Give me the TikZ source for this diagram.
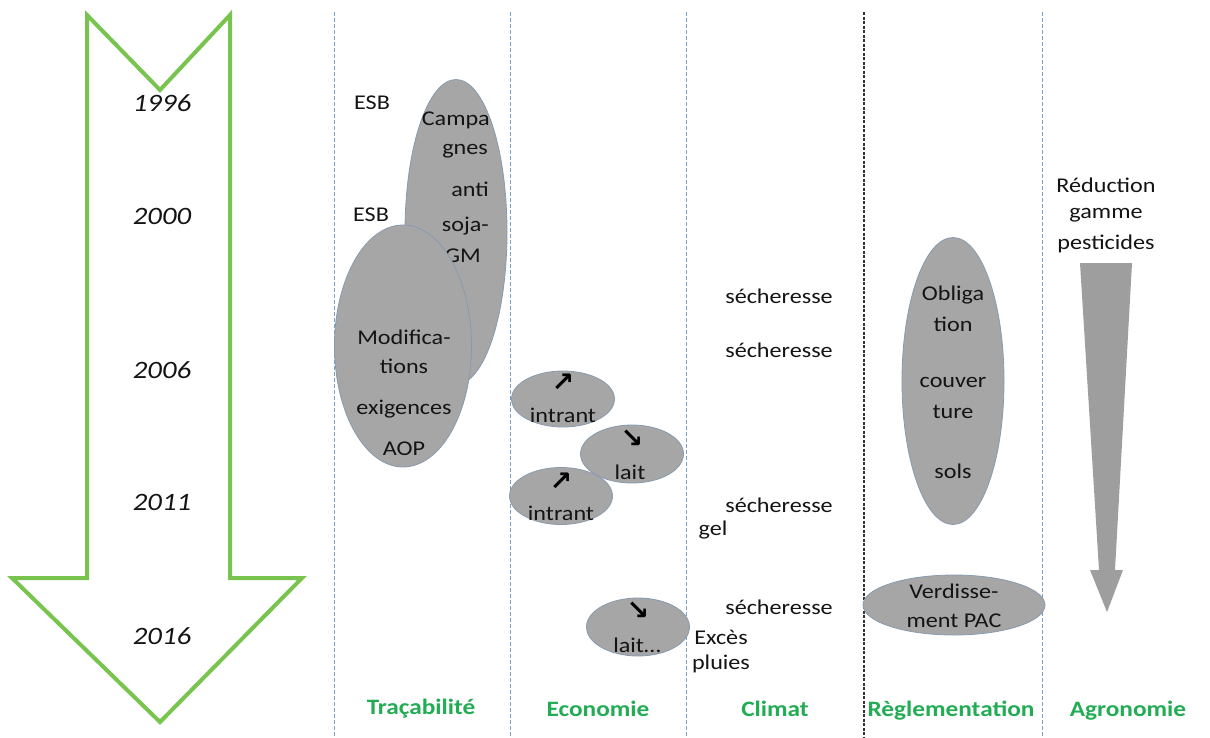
\documentclass[tikz,border=0pt]{standalone}
\usepackage{fontspec}
\setmainfont{Carlito}[FakeStretch=1.15]
\newfontfamily\arrowfont{DejaVu Sans}
\usetikzlibrary{shapes.geometric}
\definecolor{arrgreen}{RGB}{120,196,78}
\definecolor{lblgreen}{RGB}{34,172,84}
\definecolor{ellfill}{RGB}{166,166,166}
\definecolor{elldraw}{RGB}{135,155,175}
\definecolor{dashblue}{RGB}{120,160,195}
\definecolor{txtc}{RGB}{20,20,20}
\begin{document}
\begin{tikzpicture}[x=1pt,y=-1pt,
 txt/.style={font=\fontsize{21}{25}\selectfont, inner sep=0pt, text=txtc},
 yr/.style={font=\fontsize{25}{28}\selectfont\itshape, inner sep=0pt, text=txtc},
 lbl/.style={font=\fontsize{22}{26}\selectfont\bfseries, text=lblgreen, inner sep=0pt},
 blob/.style={ellipse, fill=ellfill, draw=elldraw, line width=0.8pt, inner sep=0pt},
 sep/.style={draw=dashblue, line width=1pt, dash pattern=on 4pt off 2pt},
 sepdark/.style={draw=black!80, line width=1.2pt, dash pattern=on 3pt off 1.5pt},
 arr/.style={font=\arrowfont\bfseries\fontsize{27}{28}\selectfont, inner sep=0pt, text=black},
]
\useasboundingbox (0,0) rectangle (1210,737);
\fill[white] (0,0) rectangle (1210,737);

% column separators
\coordinate (t1) at (334,12);  \coordinate (b1) at (334,737);
\coordinate (t2) at (510,12);  \coordinate (b2) at (510,737);
\coordinate (t3) at (686,12);  \coordinate (b3) at (686,737);
\coordinate (t4) at (864,12);  \coordinate (b4) at (864,737);
\coordinate (t5) at (1042,12); \coordinate (b5) at (1042,737);
\draw[sep] (t1) -- (b1);
\draw[sep] (t2) -- (b2);
\draw[sep] (t3) -- (b3);
\draw[sepdark] (t4) -- (b4);
\draw[sep] (t5) -- (b5);

% green time arrow
\draw[arrgreen, line width=4pt, line join=miter]
  (87,15) -- (160,90) -- (230,15) -- (230,578) -- (302,578) -- (160,722)
  -- (12,578) -- (87,578) -- cycle;
\node[yr] (y1996) at (162,103) {1996};
\node[yr] (y2000) at (162,216) {2000};
\node[yr] (y2006) at (162,370) {2006};
\node[yr] (y2011) at (162,502) {2011};
\node[yr] (y2016) at (162,636) {2016};

% Tracabilite
\node[txt] (esb1) at (372,103) {ESB};
\node[txt] (esb2) at (371,215) {ESB};
\node[blob, minimum width=102pt, minimum height=305pt] (camp) at (456,232) {};
\node[txt, anchor=east] (c1) at (490,120) {Campa};
\node[txt, anchor=east] (c2) at (488,151) {gnes};
\node[txt, anchor=east] (c3) at (489,189) {anti};
\node[txt, anchor=east] (c4) at (489,226) {soja-};
\node[txt, anchor=east] (c5) at (481,256) {OGM};
\node[blob, minimum width=137pt, minimum height=242pt] (modif) at (403,346) {};
\node[txt] (m1) at (404,337) {Modifica-};
\node[txt] (m2) at (404,366) {tions};
\node[txt] (m3) at (404,409) {exigences};
\node[txt] (m4) at (404,449) {AOP};

% Economie
\node[blob, minimum width=103pt, minimum height=56pt] (e1) at (563,399) {};
\node[arr] (e1a) at (563,383) {↗};
\node[txt] (e1t) at (563,415) {intrant};
\node[blob, minimum width=103pt, minimum height=58pt] (e2) at (632,454) {};
\node[arr] (e2a) at (632,439) {↘};
\node[txt] (e2t) at (630,472) {lait};
\node[blob, minimum width=103pt, minimum height=57pt] (e3) at (561,496) {};
\node[arr] (e3a) at (561,482) {↗};
\node[txt] (e3t) at (561,513) {intrant};
\node[blob, minimum width=103pt, minimum height=58pt] (e4) at (638,627) {};
\node[arr] (e4a) at (638,611) {↘};
\node[txt] (e4t) at (637,645) {lait…};

% Climat
\node[txt] (s1) at (779,296) {sécheresse};
\node[txt] (s2) at (779,350) {sécheresse};
\node[txt] (s3) at (779,505) {sécheresse};
\node[txt] (s4) at (779,607) {sécheresse};
\node[txt] (gel) at (713,530) {gel};
\node[txt] (exc) at (721,637) {Excès};
\node[txt] (plu) at (721,664) {pluies};

% Reglementation
\node[blob, minimum width=102pt, minimum height=287pt] (oblig) at (953,381) {};
\node[txt] (o1) at (953,295) {Obliga};
\node[txt] (o2) at (953,324) {tion};
\node[txt] (o3) at (953,382) {couver};
\node[txt] (o4) at (953,412) {ture};
\node[txt] (o5) at (953,471) {sols};
\node[blob, minimum width=182pt, minimum height=60pt] (verd) at (954,605) {};
\node[txt] (v1) at (954,591) {Verdisse-};
\node[txt] (v2) at (954,621) {ment PAC};

% Agronomie
\node[txt] (r1) at (1106,185) {Réduction};
\node[txt] (r2) at (1106,215) {gamme};
\node[txt] (r3) at (1106,244) {pesticides};
\fill[ellfill!95!black] (1080,263) -- (1132,263) -- (1115,570) -- (1123,570)
  -- (1107,612) -- (1090,570) -- (1099,570) -- cycle;

% column labels
\node[lbl] (l1) at (421,709) {Traçabilité};
\node[lbl] (l2) at (598,709) {Economie};
\node[lbl] (l3) at (775,709) {Climat};
\node[lbl] (l4) at (951,711) {Règlementation};
\node[lbl] (l5) at (1128,711) {Agronomie};
\end{tikzpicture}
\end{document}
